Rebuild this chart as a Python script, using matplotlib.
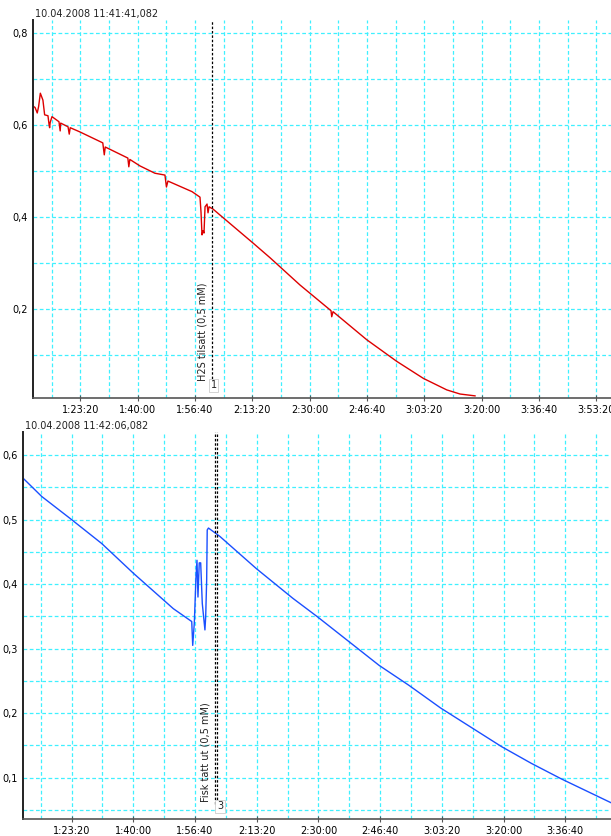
import matplotlib
matplotlib.use("Agg")
import matplotlib.pyplot as plt
from matplotlib.ticker import FuncFormatter, MultipleLocator

# top channel (red), time in seconds since start of logging
red_t = [4173, 4211, 4249, 4273, 4303, 4348, 4378, 4436, 4456, 4465, 4474, 4506,
         4628, 4649, 4658, 4786, 4807, 4824, 4990, 5392, 5418, 5435, 5829, 5846,
         5864, 6039, 6301, 6476, 6502, 6528, 6948, 7087, 7105, 7122, 7140, 7157,
         7175, 7210, 7227, 7245, 7315, 7437, 8014, 8311, 8831, 9354, 9372, 9384,
         9407, 9995, 10518, 10982, 11390, 11622, 11883]
red_v = [0.641, 0.638, 0.626, 0.640, 0.669, 0.654, 0.622, 0.620, 0.600, 0.594, 0.605, 0.618,
         0.607, 0.587, 0.604, 0.596, 0.580, 0.594, 0.585, 0.561, 0.535, 0.552, 0.528, 0.509,
         0.525, 0.511, 0.495, 0.491, 0.465, 0.478, 0.455, 0.443, 0.410, 0.361, 0.370, 0.365,
         0.422, 0.428, 0.409, 0.422, 0.417, 0.404, 0.343, 0.311, 0.252, 0.198, 0.196, 0.183,
         0.194, 0.133, 0.086, 0.049, 0.024, 0.015, 0.011]

# bottom channel (blue)
blue_t = [4217, 4515, 4974, 5488, 6000, 6648, 6947, 6963, 6989, 7016,
          7032, 7048, 7069, 7092, 7118, 7161, 7173, 7189, 7198, 7218, 7403, 7995,
          8586, 8989, 9984, 10468, 10979, 11968, 12452, 12936, 13742]
blue_v = [0.564, 0.536, 0.502, 0.463, 0.417, 0.362, 0.342, 0.305, 0.340, 0.411,
          0.437, 0.380, 0.433, 0.433, 0.370, 0.329, 0.349, 0.406, 0.484, 0.487, 0.474, 0.424,
          0.378, 0.349, 0.274, 0.243, 0.208, 0.148, 0.122, 0.098, 0.061]

red_marker_t = [7296]
red_marker_text = "H2S tilsatt (0,5 mM)"
red_marker_id = "1"
blue_marker_t = [7325, 7352]
blue_marker_text = "Fisk tatt ut (0,5 mM)"
blue_marker_id = "3"

top_stamp = "10.04.2008 11:41:41,082"
bottom_stamp = "10.04.2008 11:42:06,082"

GRID = "#3ff0ff"


def hms(x, pos=None):
    x = int(round(x))
    return f"{x // 3600}:{(x % 3600) // 60:02d}:{x % 60:02d}"


def comma(v, pos=None):
    return f"{v:.1f}".replace(".", ",")


def style_axes(ax, xlim, ylim, ymajor, yminor):
    ax.set_xlim(*xlim)
    ax.set_ylim(*ylim)
    ax.xaxis.set_major_locator(MultipleLocator(1000))
    ax.xaxis.set_minor_locator(MultipleLocator(500))
    ax.xaxis.set_major_formatter(FuncFormatter(hms))
    ax.yaxis.set_major_locator(MultipleLocator(ymajor))
    ax.yaxis.set_minor_locator(MultipleLocator(yminor))
    ax.yaxis.set_major_formatter(FuncFormatter(comma))
    ax.grid(True, which="both", color=GRID, linestyle=(0, (3, 2)), linewidth=0.9)
    ax.set_axisbelow(True)
    for side in ("top", "right"):
        ax.spines[side].set_visible(False)
    ax.spines["left"].set_color("#222222")
    ax.spines["left"].set_linewidth(1.4)
    ax.spines["bottom"].set_color("#555555")
    ax.spines["bottom"].set_linewidth(1.2)
    ax.tick_params(axis="x", which="major", direction="inout", length=4,
                   width=0.8, color="#555555", labelsize=7, pad=3)
    ax.tick_params(axis="x", which="minor", length=0)
    ax.tick_params(axis="y", which="both", length=0, labelsize=7, pad=4)


def draw_marker(ax, times, label, ident, ylim):
    for t in times:
        ax.axvline(t, ymin=0.04, ymax=1.0, color="black", linestyle=(0, (2, 1.5)),
                   linewidth=0.9)
    x0 = times[0]
    span = ylim[1] - ylim[0]
    ax.text(x0 - 70, ylim[0] + span * 0.045, label, rotation=90,
            ha="right", va="bottom", fontsize=7, color="#222222")
    ax.text(x0 + 50 * len(times) - 20, ylim[0] + span * 0.02, ident, ha="center",
            va="bottom", fontsize=7, color="#222222",
            bbox=dict(boxstyle="square,pad=0.15", fc="white", ec="#cccccc", lw=0.6))


fig = plt.figure(figsize=(6.11, 8.36), dpi=100)
ax1 = fig.add_axes([0.054, 0.524, 0.946, 0.452])
ax2 = fig.add_axes([0.0376, 0.0203, 0.9624, 0.4630])

top_ylim = (0.0065, 0.828)
style_axes(ax1, (4175, 14254), top_ylim, 0.2, 0.1)
ax1.plot(red_t, red_v, color="#dd0000", linewidth=1.0)
draw_marker(ax1, red_marker_t, red_marker_text, red_marker_id, top_ylim)
fig.text(35 / 611, 1 - 14 / 836, top_stamp, fontsize=7, va="center", ha="left",
         color="#222222")

bottom_ylim = (0.0357, 0.636)
style_axes(ax2, (4212, 13742), bottom_ylim, 0.1, 0.05)
ax2.plot(blue_t, blue_v, color="#1a4fff", linewidth=1.0)
draw_marker(ax2, blue_marker_t, blue_marker_text, blue_marker_id, bottom_ylim)
fig.text(25 / 611, 1 - 426 / 836, bottom_stamp, fontsize=7, va="center", ha="left",
         color="#222222")

fig.savefig("out.png", dpi=100)
